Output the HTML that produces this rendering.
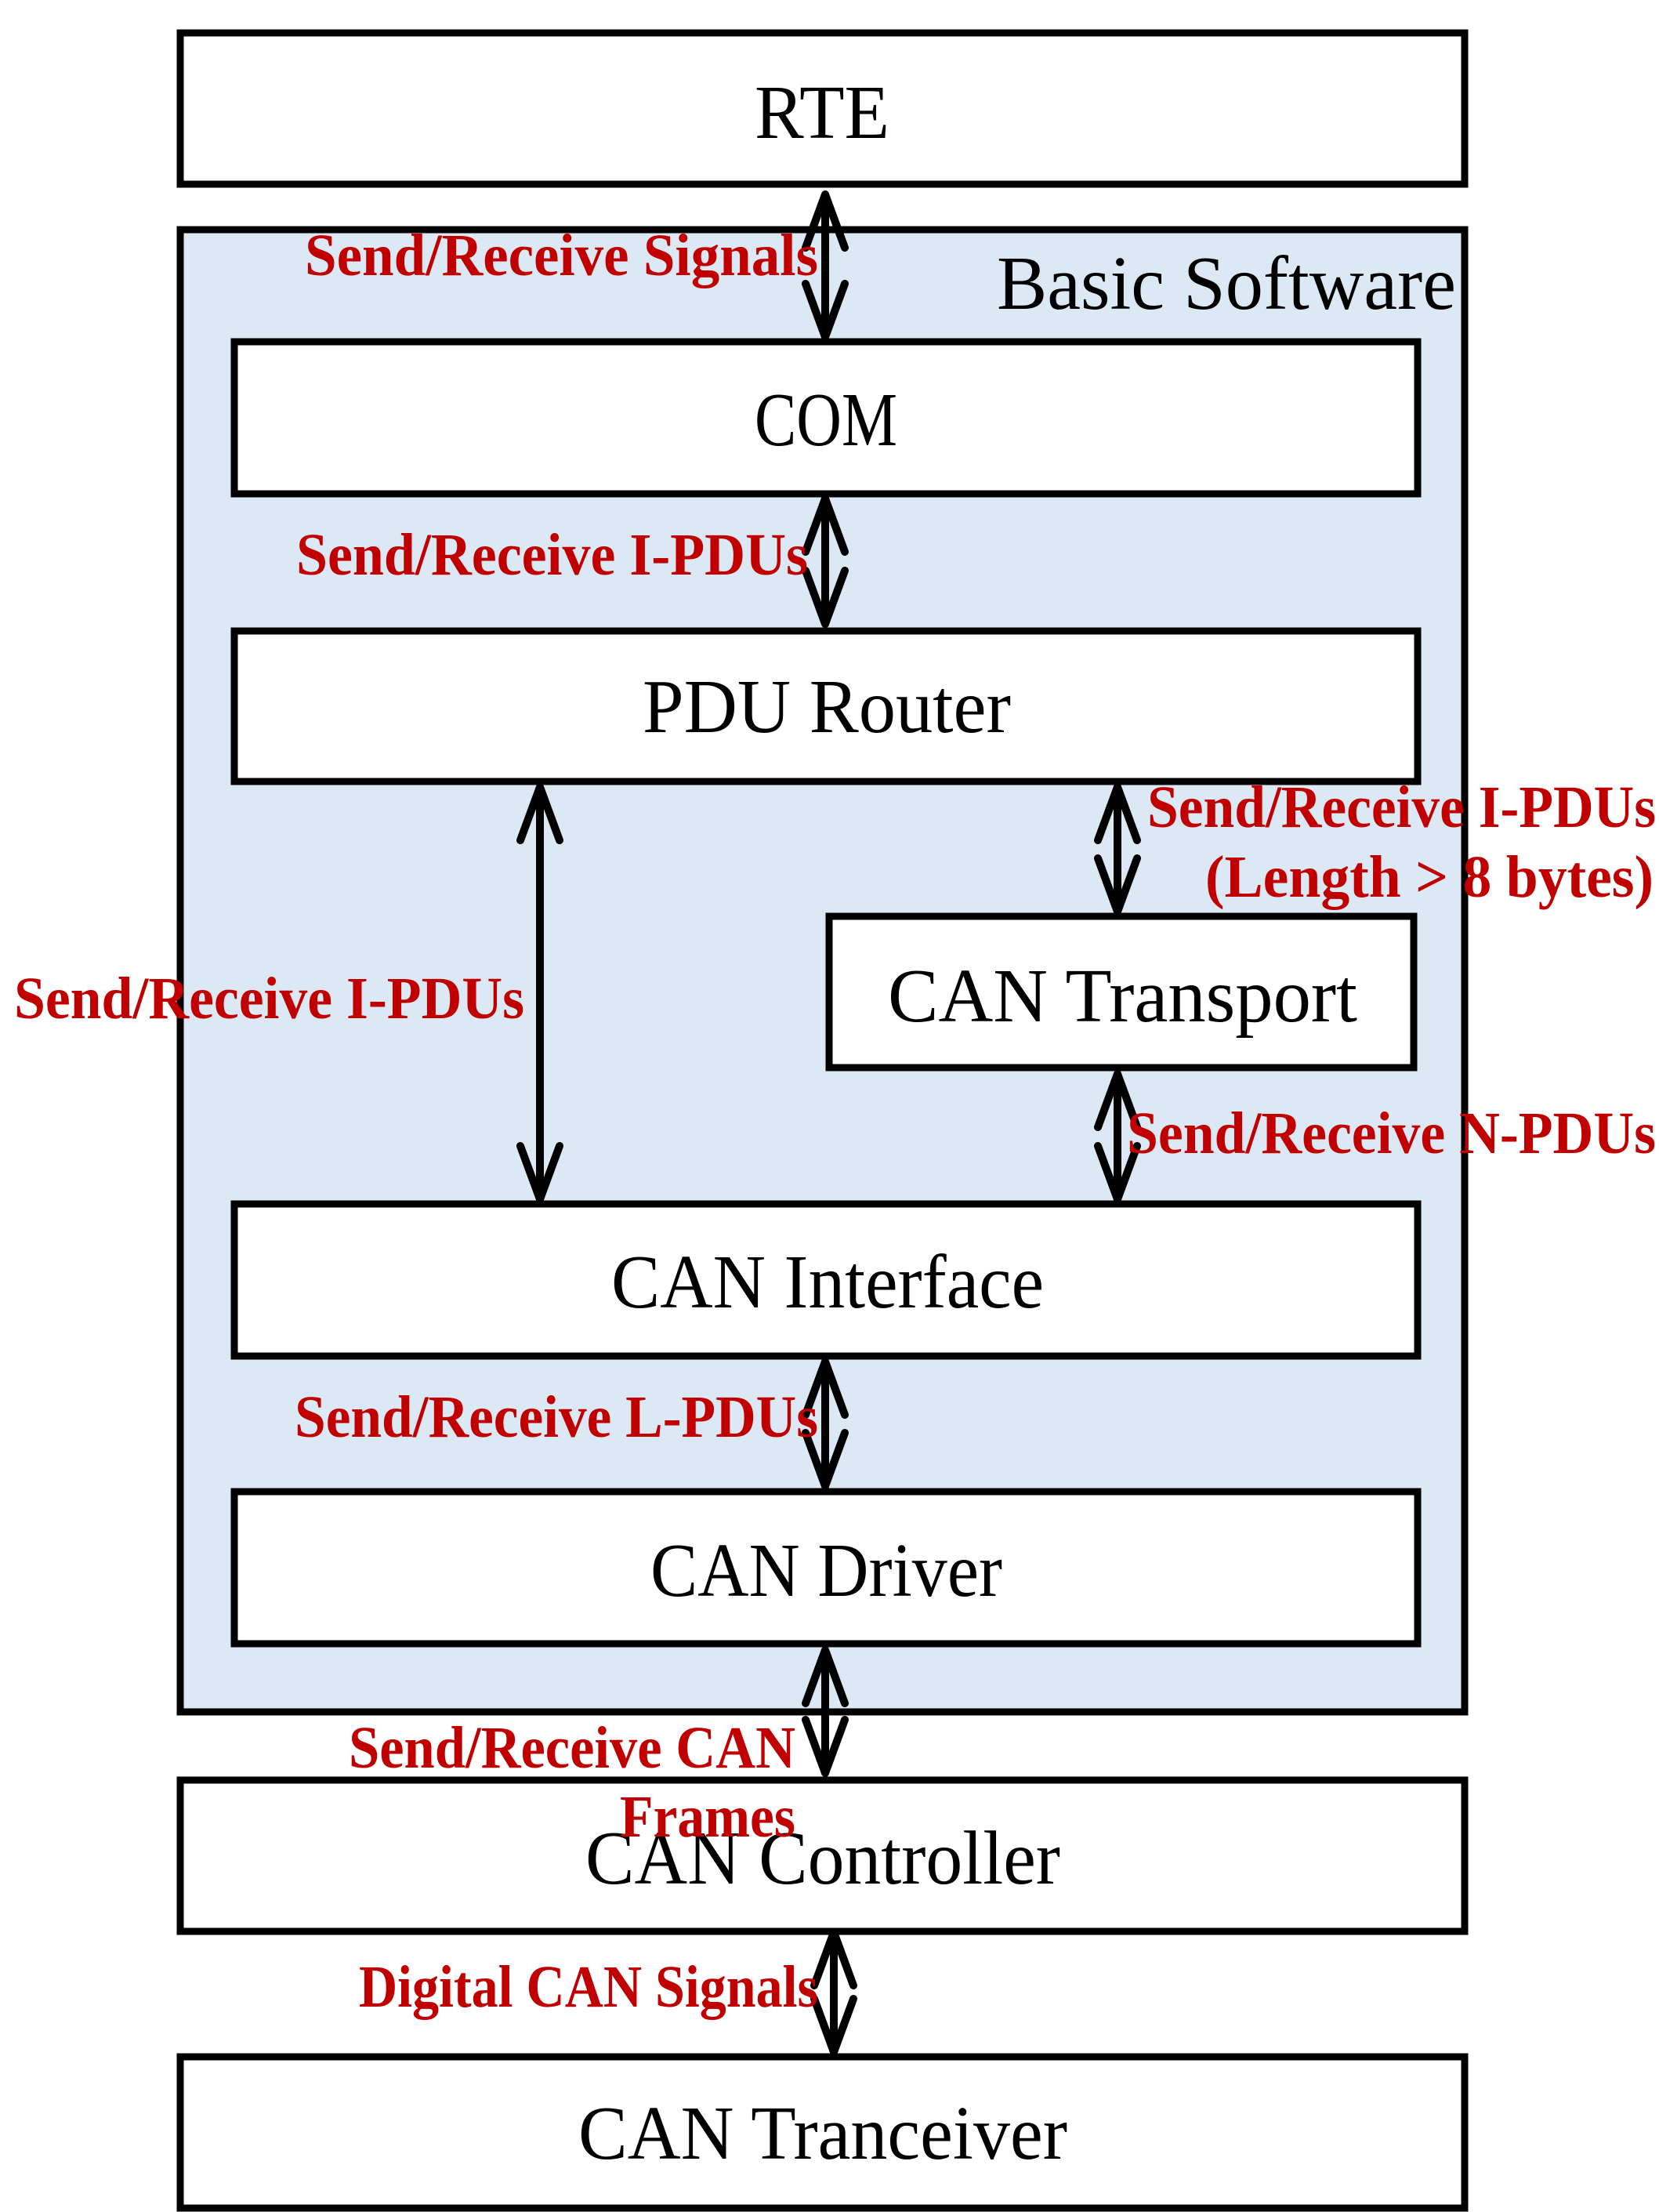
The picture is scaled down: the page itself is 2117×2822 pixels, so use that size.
<!DOCTYPE html>
<html><head><meta charset="utf-8"><style>html,body{margin:0;padding:0;background:#fff}svg{display:block}</style></head>
<body>
<svg width="2117" height="2822" viewBox="0 0 2117 2822" xmlns="http://www.w3.org/2000/svg">
<g stroke="#000" stroke-width="9" fill="#fff">
<rect x="230" y="42" width="1639" height="193"/>
<rect x="230" y="293" width="1639" height="1891" fill="#dce9f5"/>
<rect x="299" y="436" width="1510" height="194"/>
<rect x="299" y="805" width="1510" height="192"/>
<rect x="1058" y="1169" width="746" height="193"/>
<rect x="299" y="1536" width="1510" height="194"/>
<rect x="299" y="1903" width="1510" height="194"/>
<rect x="230" y="2271" width="1639" height="193"/>
<rect x="230" y="2624" width="1639" height="193"/>
</g>
<g stroke="#000" stroke-width="10" fill="none" stroke-linecap="round" stroke-linejoin="round">
<path d="M1053 248V430 M1028 316L1053 248L1078 316 M1028 362L1053 430L1078 362"/>
<path d="M1053 636V796 M1028 704L1053 636L1078 704 M1028 728L1053 796L1078 728"/>
<path d="M689 1004V1530 M664 1072L689 1004L714 1072 M664 1462L689 1530L714 1462"/>
<path d="M1426 1004V1163 M1401 1072L1426 1004L1451 1072 M1401 1095L1426 1163L1451 1095"/>
<path d="M1426 1370V1530 M1401 1438L1426 1370L1451 1438 M1401 1462L1426 1530L1451 1462"/>
<path d="M1053 1737V1896 M1028 1805L1053 1737L1078 1805 M1028 1828L1053 1896L1078 1828"/>
<path d="M1053 2105V2262 M1028 2173L1053 2105L1078 2173 M1028 2194L1053 2262L1078 2194"/>
<path d="M1064 2465V2618 M1039 2533L1064 2465L1089 2533 M1039 2550L1064 2618L1089 2550"/>
</g>
<g font-family="Liberation Serif, serif" font-size="98" fill="#000">
<text x="963" y="176" textLength="172" lengthAdjust="spacingAndGlyphs">RTE</text>
<text x="1272" y="394" textLength="586" lengthAdjust="spacingAndGlyphs">Basic Software</text>
<text x="963" y="568" textLength="182" lengthAdjust="spacingAndGlyphs">COM</text>
<text x="820" y="934" textLength="470" lengthAdjust="spacingAndGlyphs">PDU Router</text>
<text x="1133" y="1303" textLength="599" lengthAdjust="spacingAndGlyphs">CAN Transport</text>
<text x="780" y="1668" textLength="552" lengthAdjust="spacingAndGlyphs">CAN Interface</text>
<text x="830" y="2036" textLength="449" lengthAdjust="spacingAndGlyphs">CAN Driver</text>
<text x="747" y="2403" textLength="606" lengthAdjust="spacingAndGlyphs">CAN Controller</text>
<text x="738" y="2754" textLength="624" lengthAdjust="spacingAndGlyphs">CAN Tranceiver</text>
</g>
<g font-family="Liberation Serif, serif" font-weight="bold" font-size="76" fill="#c00000">
<text x="389" y="351" textLength="655" lengthAdjust="spacingAndGlyphs">Send/Receive Signals</text>
<text x="378" y="733" textLength="653" lengthAdjust="spacingAndGlyphs">Send/Receive I-PDUs</text>
<text x="1464" y="1055" textLength="649" lengthAdjust="spacingAndGlyphs">Send/Receive I-PDUs</text>
<text x="1538" y="1144" textLength="572" lengthAdjust="spacingAndGlyphs">(Length &gt; 8 bytes)</text>
<text x="18" y="1299" textLength="651" lengthAdjust="spacingAndGlyphs">Send/Receive I-PDUs</text>
<text x="1438" y="1471" textLength="675" lengthAdjust="spacingAndGlyphs">Send/Receive N-PDUs</text>
<text x="376" y="1833" textLength="668" lengthAdjust="spacingAndGlyphs">Send/Receive L-PDUs</text>
<text x="445" y="2255" textLength="570" lengthAdjust="spacingAndGlyphs">Send/Receive CAN</text>
<text x="791" y="2343" textLength="224" lengthAdjust="spacingAndGlyphs">Frames</text>
<text x="458" y="2560" textLength="586" lengthAdjust="spacingAndGlyphs">Digital CAN Signals</text>
</g>
</svg>
</body></html>
